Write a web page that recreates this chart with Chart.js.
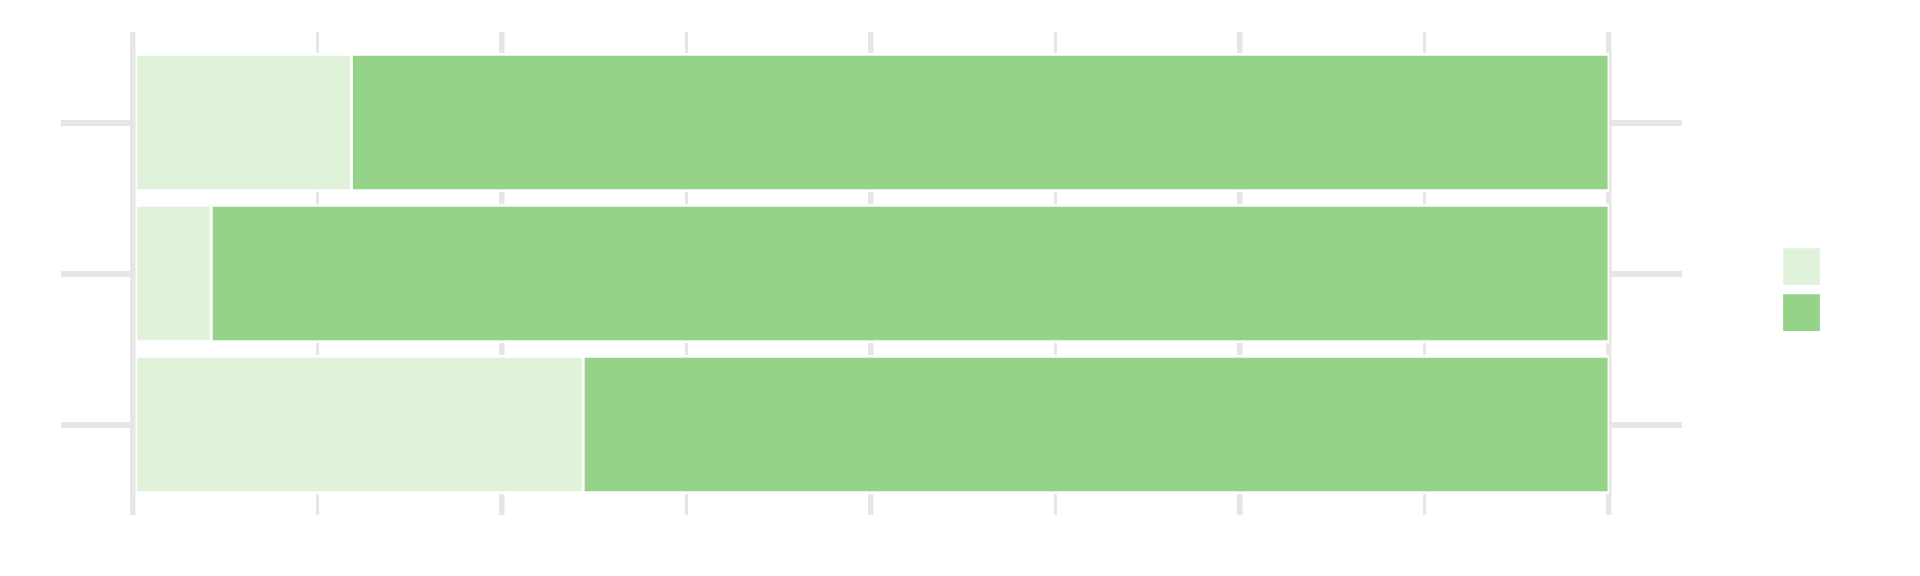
<!DOCTYPE html>
<html>
<head>
<meta charset="utf-8">
<script src="https://cdn.jsdelivr.net/npm/chart.js@4/dist/chart.umd.min.js"></script>
<style>
    html, body { margin: 0; padding: 0; background: #ffffff; }
    #wrap { width: 1920px; height: 576px; position: relative; }
</style>
</head>
<body>
<div id="wrap"><canvas id="chart"></canvas></div>
<script>
// three rows, no visible labels in the reference
const categories = ['A', 'B', 'C'];
// 100% stacked shares
const lightShare = [14.8, 5.3, 30.5];
const darkShare = [85.2, 94.7, 69.5];
const xTicks = [0, 12.5, 25, 37.5, 50, 62.5, 75, 87.5, 100];

const GRID = '#e6e6e6';

// thicker grid lines at quarter marks
function xGridWidth(ctx) {
    if (!ctx.tick) return 3;
    return ctx.tick.value % 25 === 0 ? 5.5 : 3;
}

const barBorder = { top: 3, bottom: 3, left: 1.5, right: 1.5 };

const ctx = document.getElementById('chart').getContext('2d');
new Chart(ctx, {
    type: 'bar',
    data: {
        labels: categories,
        datasets: [
            {
                label: '',
                data: lightShare,
                backgroundColor: '#e0f3da',
                borderColor: '#ffffff',
                borderWidth: barBorder,
                borderSkipped: false
            },
            {
                label: '',
                data: darkShare,
                backgroundColor: '#95d389',
                borderColor: '#ffffff',
                borderWidth: barBorder,
                borderSkipped: false
            }
        ]
    },
    options: {
        indexAxis: 'y',
        responsive: true,
        maintainAspectRatio: false,
        animation: false,
        datasets: {
            bar: { barPercentage: 0.924, categoryPercentage: 1 }
        },
        layout: {
            padding: { left: 61, right: 83, top: 32, bottom: 29 }
        },
        scales: {
            x: {
                type: 'linear',
                position: 'bottom',
                stacked: true,
                min: 0,
                max: 100,
                afterBuildTicks: (scale) => { scale.ticks = xTicks.map(v => ({ value: v })); },
                ticks: { display: false },
                border: { display: false },
                grid: { color: GRID, lineWidth: xGridWidth, tickLength: 15, drawOnChartArea: true },
                afterFit: (scale) => { scale.height = 47; }
            },
            x2: {
                type: 'linear',
                position: 'top',
                min: 0,
                max: 100,
                afterBuildTicks: (scale) => { scale.ticks = xTicks.map(v => ({ value: v })); },
                ticks: { display: false },
                border: { display: false },
                grid: { color: GRID, lineWidth: xGridWidth, tickLength: 15, drawOnChartArea: false }
            },
            y: {
                type: 'category',
                position: 'left',
                stacked: true,
                offset: true,
                ticks: { display: false },
                border: { display: false },
                grid: { color: GRID, lineWidth: 6, tickLength: 72, offset: false, drawOnChartArea: false }
            },
            y2: {
                type: 'category',
                position: 'right',
                offset: true,
                ticks: { display: false },
                border: { display: false },
                grid: { color: GRID, lineWidth: 6, tickLength: 73, offset: false, drawOnChartArea: false },
                afterFit: (scale) => { scale.width = 166; }
            }
        },
        plugins: {
            legend: {
                position: 'right',
                labels: {
                    boxWidth: 39,
                    boxHeight: 39,
                    padding: 7,
                    font: { size: 12 }
                }
            },
            tooltip: { enabled: false }
        }
    }
});
</script>
</body>
</html>
